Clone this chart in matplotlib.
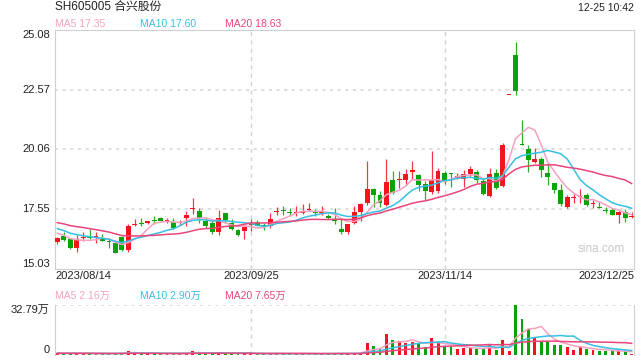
import numpy as np
import pandas as pd
import matplotlib
matplotlib.use('Agg')
from matplotlib import pyplot as plt

plt.rcParams['font.family'] = ['Liberation Sans', 'Noto Sans CJK SC', 'DejaVu Sans']

# --- data (2023/08/14 .. 2023/12/25, 90 trading days) ---
open_ = [16.17, 16.43, 16.29, 15.92, 16.35, 16.38, 16.36, 16.31, 16.22, 16.12,
         16.36, 15.83, 16.87, 16.98, 16.98, 17.08, 17.19, 17.04, 17.01, 16.96,
         17.18, 17.54, 17.46, 17.05, 16.95, 16.59, 17.38, 16.98, 16.66, 16.62,
         16.90, 16.98, 16.87, 16.82, 17.43, 17.51, 17.44, 17.39, 17.39, 17.50,
         17.44, 17.40, 17.26, 17.08, 16.70, 16.59, 16.98, 17.44, 17.79, 18.38,
         18.13, 17.72, 18.76, 18.76, 18.77, 19.11, 18.97, 18.59, 18.27, 18.31,
         19.08, 19.08, 18.87, 18.80, 19.04, 19.11, 18.73, 18.10, 19.08, 18.52,
         22.33, 24.03, 20.28, 20.06, 19.54, 19.66, 19.08, 18.63, 18.34, 17.65,
         18.03, 18.06, 18.14, 17.75, 17.64, 17.47, 17.50, 17.31, 17.43, 17.20]
close = [16.33, 16.26, 15.90, 16.31, 16.38, 16.33, 16.40, 16.22, 16.15, 15.69,
         15.83, 16.82, 16.91, 16.94, 17.05, 17.04, 17.05, 17.09, 16.77, 17.01,
         17.29, 17.61, 17.17, 16.84, 16.57, 17.19, 17.08, 16.73, 16.47, 16.80,
         16.94, 16.84, 16.82, 17.12, 17.47, 17.47, 17.40, 17.44, 17.47, 17.54,
         17.40, 17.44, 17.17, 17.05, 16.57, 16.91, 17.44, 17.75, 18.38, 18.14,
         17.82, 18.70, 18.24, 18.80, 19.04, 19.18, 18.56, 18.31, 18.76, 19.15,
         18.73, 19.01, 18.94, 19.01, 19.22, 18.76, 18.17, 19.01, 18.45, 20.26,
         22.33, 22.50, 20.25, 19.61, 19.66, 19.19, 18.90, 18.34, 17.75, 18.06,
         18.07, 18.10, 17.72, 17.79, 17.58, 17.45, 17.31, 17.43, 17.17, 17.22]
high = [16.36, 16.59, 16.30, 16.45, 16.59, 16.73, 16.59, 16.49, 16.35, 16.12,
        16.43, 16.94, 17.15, 17.18, 17.05, 17.24, 17.22, 17.19, 17.17, 17.08,
        17.45, 18.02, 17.61, 17.22, 17.05, 17.53, 17.40, 17.12, 16.70, 16.84,
        17.12, 17.10, 16.98, 17.40, 17.65, 17.68, 17.58, 17.68, 17.75, 17.79,
        17.54, 17.68, 17.36, 17.61, 17.19, 16.94, 17.68, 17.82, 19.59, 18.42,
        18.31, 19.64, 19.15, 19.15, 19.22, 19.59, 19.01, 18.73, 19.99, 19.29,
        19.15, 19.08, 19.08, 19.18, 19.36, 19.18, 18.80, 19.29, 19.22, 20.31,
        22.33, 24.59, 21.31, 20.26, 20.12, 19.73, 19.43, 18.63, 18.59, 18.13,
        18.17, 18.41, 18.21, 17.93, 17.85, 17.64, 17.61, 17.47, 17.57, 17.43]
low = [16.10, 16.19, 15.88, 15.75, 16.22, 16.29, 16.11, 16.19, 15.91, 15.69,
       15.80, 15.73, 16.82, 16.82, 16.91, 16.91, 17.03, 16.96, 16.73, 16.87,
       16.85, 17.36, 16.98, 16.77, 16.52, 16.47, 16.98, 16.66, 16.40, 16.29,
       16.64, 16.82, 16.66, 16.77, 17.29, 17.30, 17.26, 17.26, 17.33, 17.45,
       17.26, 17.29, 17.12, 16.91, 16.50, 16.50, 16.91, 17.05, 17.72, 17.64,
       17.64, 17.68, 18.17, 18.45, 18.56, 18.80, 18.31, 17.92, 18.20, 18.24,
       18.62, 18.48, 18.80, 18.48, 18.94, 18.66, 18.13, 18.07, 18.38, 18.49,
       22.33, 22.33, 20.25, 19.10, 19.50, 18.91, 18.55, 18.24, 17.68, 17.58,
       17.82, 17.82, 17.68, 17.61, 17.58, 17.38, 17.31, 16.98, 17.01, 17.19]
# volume in 万
volume = [1.0, 1.1, 1.2, 1.1, 0.9, 0.9, 0.8, 0.9, 0.8, 1.2,
          1.1, 2.8, 1.2, 0.9, 0.8, 0.8, 0.9, 0.8, 0.9, 0.8,
          1.3, 2.8, 1.2, 1.1, 1.0, 1.4, 1.0, 0.9, 0.9, 1.0,
          0.9, 0.8, 0.8, 0.9, 1.0, 0.9, 0.8, 0.8, 0.9, 0.8,
          0.8, 1.1, 1.1, 1.1, 1.1, 1.1, 1.1, 1.5, 8.1, 5.9,
          3.9, 13.8, 9.8, 9.2, 8.1, 8.7, 7.7, 5.2, 11.1, 8.1,
          5.5, 5.2, 3.9, 4.8, 4.8, 3.9, 3.9, 6.6, 3.3, 9.8,
          2.6, 32.79, 23.6, 16.8, 11.4, 9.2, 8.7, 6.6, 6.6, 5.2,
          3.3, 5.2, 3.9, 3.3, 2.6, 2.6, 2.6, 2.4, 2.4, 0.8]
# closes / volumes of the 19 days before the window (needed for the MA lines at the left edge)
pre_close = [17.3, 17.35, 17.2, 17.1, 17.25, 17.3, 17.2, 17.15, 17.2, 17.25,
             17.1, 17.0, 16.9, 16.8, 16.8, 16.7, 16.6, 16.55, 16.5]
pre_volume = [1.3, 1.2, 1.4, 1.3, 1.2, 1.3, 1.2, 1.1, 1.2, 1.3,
              1.2, 1.1, 1.2, 1.1, 1.0, 1.1, 1.0, 1.1, 1.0]

date_labels = ['2023/08/14', '2023/09/25', '2023/11/14', '2023/12/25']
date_index = [0, 30, 60, 89]
price_ticks = [25.08, 22.57, 20.06, 17.55, 15.03]
vol_max = 32.79
ma_text = ['MA5 17.35', 'MA10 17.60', 'MA20 18.63']
vol_ma_text = ['MA5 2.16万', 'MA10 2.90万', 'MA20 7.65万']

RED = '#f5141e'
GREEN = '#07a307'
MA_COLORS = ['#f7a1c0', '#35c0e2', '#e8457a']
GRID = '#d4d4d4'
SPINE = '#cfcfcf'

n = len(close)
x = np.arange(n)
cl_all = pd.Series(pre_close + close)
vo_all = pd.Series(pre_volume + volume)
mas = [cl_all.rolling(w).mean().values[-n:] for w in (5, 10, 20)]
vmas = [vo_all.rolling(w).mean().values[-n:] for w in (5, 10, 20)]
up = np.array(close) >= np.array(open_)
colors = np.where(up, RED, GREEN)

fig = plt.figure(figsize=(6.4, 3.6), dpi=100)
ax = fig.add_axes([55/640, 1-269/360, 579/640, 239/360])
axv = fig.add_axes([55/640, 1-355/360, 579/640, 50/360])

# --- price panel ---
for y in price_ticks[1:-1]:
	ax.axhline(y, color=GRID, lw=1.1, ls=(0, (2, 3)), zorder=0)
for i in date_index[1:3]:
	ax.axvline(i, color=GRID, lw=1.0, ls=(0, (3, 3)), zorder=0)
ax.vlines(x, low, high, colors=colors, lw=0.9, alpha=0.85, zorder=2)
body_bottom = np.minimum(open_, close)
body_h = np.maximum(np.abs(np.array(close) - np.array(open_)), 0.04)
ax.bar(x, body_h, bottom=body_bottom, width=0.75, color=colors, zorder=3, linewidth=0)
for m, c in zip(mas, MA_COLORS):
	ax.plot(x, m, color=c, lw=1.1, zorder=4)
ax.set_xlim(-0.36, n - 1 + 0.36)
ax.set_ylim(price_ticks[-1], price_ticks[0])
ax.set_xticks([])
ax.set_yticks([])
for s in ax.spines.values():
	s.set_color(SPINE)
ax.text(0.985, 0.085, 'sina.com', transform=ax.transAxes, ha='right', va='center',
	fontsize=8.5, color='#c8c8c8')

for k, y in enumerate(price_ticks):
	va = 'top' if k == 0 else ('bottom' if k == len(price_ticks) - 1 else 'center')
	ax.text(-0.009, y, '%.2f' % y, transform=ax.get_yaxis_transform(), ha='right',
		va=va, fontsize=8, color='#222222')

for i, lab in zip(date_index, date_labels):
	ha = 'left' if i == 0 else ('right' if i == n - 1 else 'center')
	xx = -0.36 if i == 0 else (n - 1 + 0.36 if i == n - 1 else i)
	ax.text(xx, -0.028, lab, transform=ax.get_xaxis_transform(), ha=ha, va='center',
		fontsize=8, color='#222222')

# --- volume panel ---
axv.axhline(vol_max, color=GRID, lw=1.1, ls=(0, (2, 3)), zorder=0)
for i in date_index[1:3]:
	axv.axvline(i, color=GRID, lw=1.0, ls=(0, (3, 3)), zorder=0)
axv.bar(x, volume, width=0.45, color=colors, linewidth=0, zorder=2)
for m, c in zip(vmas, MA_COLORS):
	axv.plot(x, m, color=c, lw=1.1, zorder=3)
axv.set_xlim(-0.36, n - 1 + 0.36)
axv.set_ylim(0, vol_max)
axv.set_xticks([])
axv.set_yticks([])
for side in ['top', 'bottom']:
	axv.spines[side].set_visible(False)
for side in ['left', 'right']:
	axv.spines[side].set_color(SPINE)
axv.text(-0.009, vol_max, '%.2f万' % vol_max, transform=axv.get_yaxis_transform(),
	ha='right', va='top', fontsize=8, color='#222222')
axv.text(-0.009, 0, '0', transform=axv.get_yaxis_transform(),
	ha='right', va='bottom', fontsize=8, color='#222222')

# --- header texts ---
fig.text(55/640, 1-8/360, 'SH605005 合兴股份', ha='left', va='center', fontsize=8.5, color='#222222')
fig.text(634/640, 1-8/360, '12-25 10:42', ha='right', va='center', fontsize=7.5, color='#222222')
for k, (t, c) in enumerate(zip(ma_text, MA_COLORS)):
	fig.text((55 + 85*k)/640, 1-24/360, t, ha='left', va='center', fontsize=7.5, color=c)
for k, (t, c) in enumerate(zip(vol_ma_text, MA_COLORS)):
	fig.text((55 + 85*k)/640, 1-296/360, t, ha='left', va='center', fontsize=7.5, color=c)

plt.savefig('out.png', dpi=100)
